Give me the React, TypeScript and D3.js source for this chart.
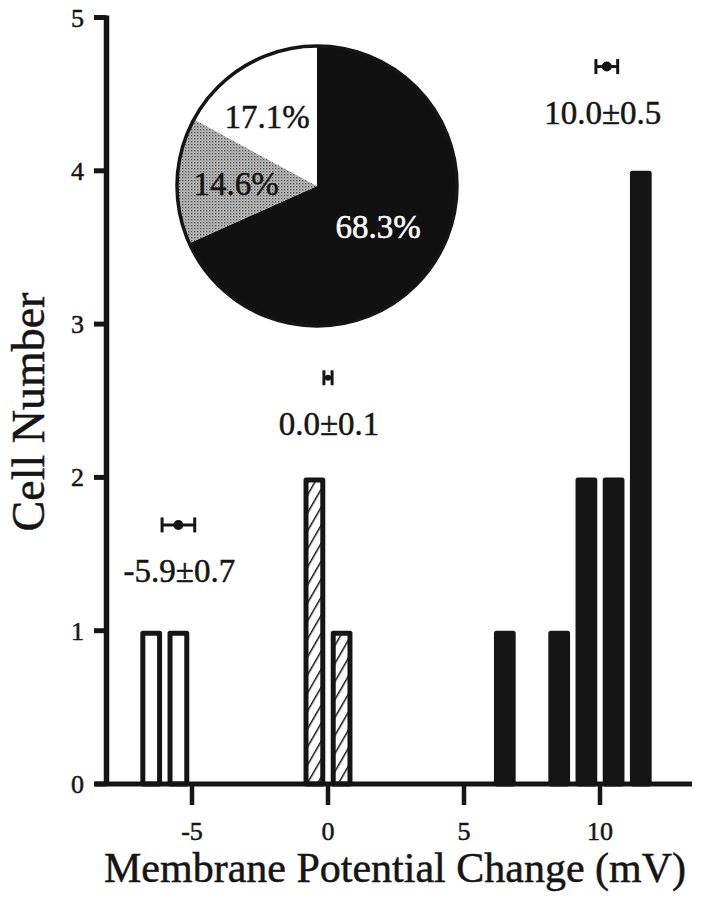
import React from "react";
import * as d3 from "d3";

// ---- data ----
const openBins = [-6.5, -5.5];
const openCounts = [1, 1];
const hatchBins = [-0.5, 0.5];
const hatchCounts = [2, 1];
const solidBins = [6.5, 8.5, 9.5, 10.5, 11.5];
const solidCounts = [1, 1, 2, 2, 4];

const xTicks = [-5, 0, 5, 10];
const yTicks = [0, 1, 2, 3, 4, 5];

const markerX = [-5.5, 0.0, 10.25];
const markerHalf = [0.6, 0.15, 0.4];
const markerY = [1.69, 2.65, 4.68];
const markerLabels = ["-5.9±0.7", "0.0±0.1", "10.0±0.5"];

const pieValues = [68.3, 14.6, 17.1];
const pieLabels = ["68.3%", "14.6%", "17.1%"];

const W = 705;
const H = 899;
const FONT = "'Liberation Serif', 'Times New Roman', serif";
const INK = "#151515";

export default function App() {
  const x = d3.scaleLinear().domain([0, 10]).range([328, 600]);
  const y = d3.scaleLinear().domain([0, 5]).range([784, 17.5]);
  const binW = 0.8;
  const sw = 5;

  const barRect = (c: number, v: number) => {
    const x0 = x(c - binW / 2) + sw / 2;
    const x1 = x(c + binW / 2) - sw / 2;
    const y0 = y(v) + sw / 2;
    const y1 = y(0);
    return { x: x0, y: y0, width: x1 - x0, height: y1 - y0 };
  };

  const pie = d3.pie<number>().sort(null).startAngle(0).endAngle(2 * Math.PI)(pieValues);
  const R = 140;
  const arc = d3.arc<d3.PieArcDatum<number>>().innerRadius(0).outerRadius(R);
  const pieFills = ["#111", "url(#stipple)", "#fff"];
  const labelPos = [
    [61, 52],
    [-81, 9],
    [-50, -58],
  ];
  const labelFill = ["#fff", INK, INK];
  const ts = { stroke: INK, strokeWidth: 0.5 };

  const xAxisLeft = 95;
  const xAxisRight = 692;

  return (
    <svg width={W} height={H} style={{ display: "block", position: "absolute", left: 0, top: 0 }}>
      <defs>
        <pattern id="hatch" width="9" height="9" patternUnits="userSpaceOnUse" patternTransform="rotate(30)">
          <rect width="9" height="9" fill="#fff" />
          <line x1="0" y1="0" x2="0" y2="9" stroke={INK} strokeWidth="3" />
        </pattern>
        <pattern id="stipple" width="3" height="3" patternUnits="userSpaceOnUse">
          <rect width="3" height="3" fill="#bcbcbc" />
          <rect x="0" y="0" width="1.3" height="1.3" fill="#4a4a4a" />
          <rect x="1.5" y="1.5" width="1" height="1" fill="#808080" />
        </pattern>
      </defs>
      <rect width={W} height={H} fill="#fff" />

      {/* bars */}
      {openBins.map((c, i) => {
        const r = barRect(c, openCounts[i]);
        return <rect key={"o" + i} {...r} fill="#fff" stroke={INK} strokeWidth={sw} strokeLinejoin="round" />;
      })}
      {hatchBins.map((c, i) => {
        const r = barRect(c, hatchCounts[i]);
        return <rect key={"h" + i} {...r} fill="url(#hatch)" stroke={INK} strokeWidth={sw} strokeLinejoin="round" />;
      })}
      {solidBins.map((c, i) => {
        const r = barRect(c, solidCounts[i]);
        return <rect key={"s" + i} {...r} fill={INK} stroke={INK} strokeWidth={sw} strokeLinejoin="round" />;
      })}

      {/* y axis */}
      <line x1={106.5} x2={106.5} y1={y(5) - 2} y2={y(0)} stroke={INK} strokeWidth={5.5} />
      {yTicks.map((t) => (
        <g key={"yt" + t}>
          <line x1={94} x2={106.5} y1={y(t)} y2={y(t)} stroke={INK} strokeWidth={5} />
          <text x={84} y={y(t) + 9} textAnchor="end" fontFamily={FONT} fontSize={26} fill={INK} {...ts}>
            {t}
          </text>
        </g>
      ))}

      {/* x axis */}
      <line x1={xAxisLeft} x2={xAxisRight} y1={y(0)} y2={y(0)} stroke={INK} strokeWidth={5} />
      {xTicks.map((t) => (
        <g key={"xt" + t}>
          <line x1={x(t)} x2={x(t)} y1={y(0)} y2={y(0) + 21} stroke={INK} strokeWidth={4.5} />
          <text x={x(t)} y={840} textAnchor="middle" fontFamily={FONT} fontSize={26} fill={INK} {...ts}>
            {t}
          </text>
        </g>
      ))}

      {/* axis titles */}
      <text x={395} y={882} textAnchor="middle" fontFamily={FONT} fontSize={42} fill={INK} {...ts}>
        Membrane Potential Change (mV)
      </text>
      <text
        transform={`translate(44,412) rotate(-90)`}
        textAnchor="middle"
        fontFamily={FONT}
        fontSize={46}
        fill={INK}
        {...ts}
      >
        Cell Number
      </text>

      {/* mean ± error markers */}
      {markerX.map((m, i) => {
        const cx = x(m);
        const cy = y(markerY[i]);
        const xl = x(m - markerHalf[i]);
        const xr = x(m + markerHalf[i]);
        return (
          <g key={"m" + i}>
            <line x1={xl} x2={xr} y1={cy} y2={cy} stroke={INK} strokeWidth={3} />
            <line x1={xl} x2={xl} y1={cy - 7.5} y2={cy + 7.5} stroke={INK} strokeWidth={3} />
            <line x1={xr} x2={xr} y1={cy - 7.5} y2={cy + 7.5} stroke={INK} strokeWidth={3} />
            <circle cx={cx} cy={cy} r={i === 1 ? 3 : 5} fill={INK} />
            <text x={cx + (i === 2 ? -4 : 1)} y={cy + 57} textAnchor="middle" fontFamily={FONT} fontSize={33} fill={INK} {...ts}>
              {markerLabels[i]}
            </text>
          </g>
        );
      })}

      {/* pie inset */}
      <g transform="translate(317,186)">
        {pie.map((p, i) => (
          <path key={"p" + i} d={arc(p) || ""} fill={pieFills[i]} stroke="none" />
        ))}
        <circle r={R} fill="none" stroke={INK} strokeWidth={3.5} />
        {pie.map((p, i) => (
          <text
            key={"pl" + i}
            x={labelPos[i][0]}
            y={labelPos[i][1]}
            textAnchor="middle"
            fontFamily={FONT}
            fontSize={33}
            fill={labelFill[i]}
            stroke={labelFill[i]}
            strokeWidth={0.5}
          >
            {pieLabels[i]}
          </text>
        ))}
      </g>
    </svg>
  );
}
